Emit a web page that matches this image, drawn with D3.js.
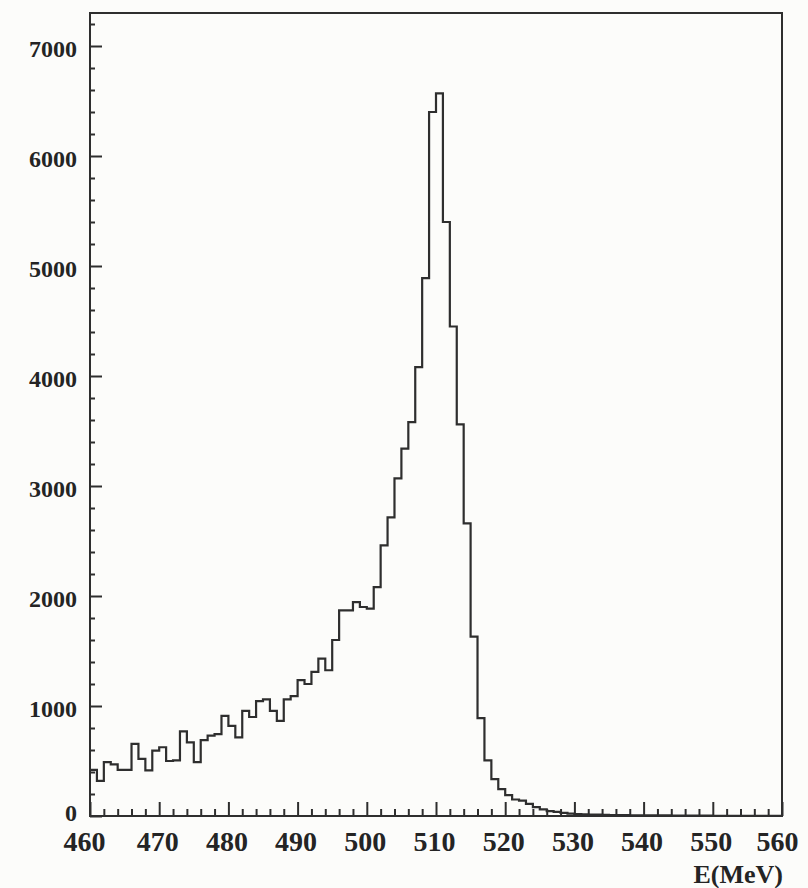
<!DOCTYPE html>
<html>
<head>
<meta charset="utf-8">
<script src="https://cdn.jsdelivr.net/npm/d3@7/dist/d3.min.js"></script>
<style>
  html, body { margin: 0; padding: 0; background: #fcfcfa; }
  svg { display: block; }
  .lbl { font-family: "Liberation Serif", "DejaVu Serif", serif; font-weight: bold; fill: #242424; }
</style>
</head>
<body>
<script>
// Bin lower edges (1 MeV bins) from 460 to 559 MeV
const binLow = d3.range(460, 560, 1);
// Counts per bin
const counts = [
  420, 320, 490, 470, 420, 420, 655, 520, 415, 595,
  625, 500, 505, 770, 670, 490, 690, 730, 745, 910,
  820, 715, 955, 900, 1045, 1060, 955, 865, 1060, 1090,
  1235, 1200, 1310, 1430, 1325, 1600, 1870, 1870, 1945, 1900,
  1885, 2080, 2460, 2715, 3070, 3340, 3580, 4080, 4890, 6400,
  6570, 5400, 4450, 3560, 2660, 1630, 890, 505, 335, 245,
  190, 150, 140, 110, 80, 60, 45, 38, 28, 22,
  18, 15, 12, 12, 10, 9, 8, 8, 7, 7,
  6, 5, 5, 5, 4, 4, 3, 3, 3, 3,
  2, 2, 2, 2, 2, 1, 1, 1, 1, 1
];
const xTickValues = [460, 470, 480, 490, 500, 510, 520, 530, 540, 550, 560];
const yTickValues = [0, 1000, 2000, 3000, 4000, 5000, 6000, 7000];
const xLabel = "E(MeV)";

const W = 808, H = 888;
const mLeft = 90, mRight = 782, mTop = 13, mBottom = 816;

const x = d3.scaleLinear().domain([460, 560]).range([mLeft, mRight]);
const y = d3.scaleLinear().domain([0, (mBottom - mTop) / 0.11]).range([mBottom, mTop]);

const svg = d3.select("body").append("svg").attr("width", W).attr("height", H);

const ink = "#2e2e2e";

// histogram step line
const pts = binLow.map((e, i) => [e, counts[i]]);
pts.push([560, counts[counts.length - 1]]);
const line = d3.line().x(d => x(d[0])).y(d => y(d[1])).curve(d3.curveStepAfter);
svg.append("path")
  .attr("d", line(pts))
  .attr("fill", "none")
  .attr("stroke", ink)
  .attr("stroke-width", 2.2)
  .attr("stroke-linejoin", "miter");

// minor ticks
const xMinor = d3.axisBottom(x).tickValues(d3.range(462, 560, 2).filter(v => v % 10 !== 0)).tickSize(-7).tickFormat("");
const gxm = svg.append("g").attr("transform", `translate(0,${mBottom})`).call(xMinor);
const yMinor = d3.axisLeft(y).tickValues(d3.range(200, 7300, 200).filter(v => v % 1000 !== 0)).tickSize(-5).tickFormat("");
const gym = svg.append("g").attr("transform", `translate(${mLeft},0)`).call(yMinor);

// major ticks
const xAxis = d3.axisBottom(x).tickValues(xTickValues).tickSize(-14).tickPadding(15).tickFormat(d3.format("d"));
const gx = svg.append("g").attr("transform", `translate(0,${mBottom})`).call(xAxis);
const yAxis = d3.axisLeft(y).tickValues(yTickValues).tickSize(-12).tickPadding(13).tickFormat(d3.format("d"));
const gy = svg.append("g").attr("transform", `translate(${mLeft},0)`).call(yAxis);

[gxm, gym, gx, gy].forEach(g => {
  g.select(".domain").remove();
  g.selectAll("line").attr("stroke", ink).attr("stroke-width", 2);
});
gx.selectAll("text").attr("class", "lbl").style("font-size", "28px").attr("dx", "-2");
gx.selectAll("text").filter(d => d === 460).attr("dx", "-6");
gx.selectAll("text").filter(d => d === 560).attr("text-anchor", "end").attr("dx", "16");
gy.selectAll("text").attr("class", "lbl").style("font-size", "24px").attr("dy", "0.45em");
gy.selectAll("text").filter(d => d === 0).attr("dy", "0.2em");

// frame
svg.append("rect")
  .attr("x", mLeft).attr("y", mTop)
  .attr("width", mRight - mLeft).attr("height", mBottom - mTop)
  .attr("fill", "none").attr("stroke", ink).attr("stroke-width", 2);

// axis title
svg.append("text")
  .attr("class", "lbl")
  .attr("x", mRight + 1).attr("y", 883)
  .attr("text-anchor", "end")
  .style("font-size", "26px")
  .text(xLabel);
</script>
</body>
</html>
